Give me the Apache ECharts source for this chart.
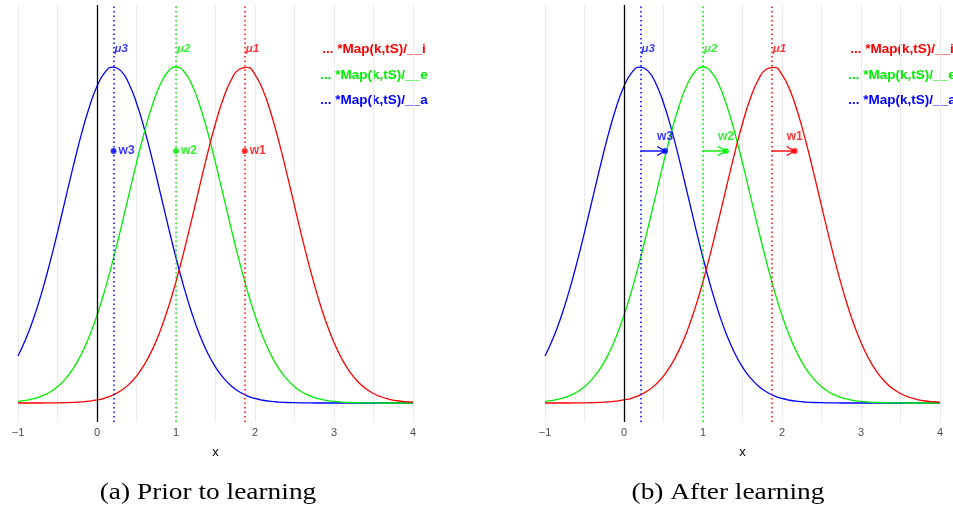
<!DOCTYPE html>
<html><head><meta charset="utf-8">
<script src="https://cdn.jsdelivr.net/npm/echarts@6/dist/echarts.min.js"></script>
<style>html,body{margin:0;padding:0;background:#fff}#c{width:953px;height:509px}</style>
</head><body><div id="c"></div>
<script>
// ---- data ----
const xs = [-1.0,-0.9,-0.8,-0.7,-0.6,-0.5,-0.4,-0.3,-0.2,-0.1,0.0,0.1,0.2,0.3,0.4,0.5,0.6,0.7,0.8,0.9,
  1.0,1.1,1.2,1.3,1.4,1.5,1.6,1.7,1.8,1.9,2.0,2.1,2.2,2.3,2.4,2.5,2.6,2.7,2.8,2.9,
  3.0,3.1,3.2,3.3,3.4,3.5,3.6,3.7,3.8,3.9,4.0];
const blueY = [0.1398,0.1910,0.2539,0.3287,0.4141,0.5080,0.6065,0.7050,0.7978,0.8789,
  0.9425,0.9839,0.9999,0.9892,0.9526,0.8931,0.8152,0.7243,0.6264,0.5274,
  0.4323,0.3449,0.2679,0.2026,0.1491,0.1069,0.0746,0.0506,0.0335,0.0215,
  0.0135,0.0082,0.0049,0.0028,0.0016,0.0009,0.0005,0.0002,0.0001,0.0001,
  0,0,0,0,0,0,0,0,0,0,0];
const greenY = [0.0046,0.0078,0.0129,0.0206,0.0321,0.0486,0.0718,0.1032,0.1444,0.1967,
  0.2609,0.3368,0.4232,0.5177,0.6165,0.7147,0.8066,0.8861,0.9477,0.9867,
  1.0,0.9867,0.9477,0.8861,0.8066,0.7147,0.6165,0.5177,0.4232,0.3368,
  0.2609,0.1967,0.1444,0.1032,0.0718,0.0486,0.0321,0.0206,0.0129,0.0078,
  0.0046,0.0027,0.0015,0.0008,0.0004,0.0002,0.0001,0.0001,0,0,0];
const redY = [0.0000,0.0000,0.0001,0.0001,0.0003,0.0005,0.0010,0.0018,0.0032,0.0054,
  0.0091,0.0148,0.0236,0.0364,0.0548,0.0803,0.1145,0.1589,0.2147,0.2825,
  0.3616,0.4508,0.5471,0.6462,0.7432,0.8320,0.9067,0.9619,0.9934,0.9988,
  0.9775,0.9314,0.8639,0.7800,0.6856,0.5867,0.4887,0.3963,0.3128,0.2404,
  0.1798,0.1309,0.0929,0.0641,0.0430,0.0282,0.0179,0.0111,0.0067,0.0039,0.0023];
const mus = [1.87, 1.0, 0.21];            // mu1, mu2, mu3
const muLabels = ['\u03bc1', '\u03bc2', '\u03bc3'];
const wValue = 0.75;
const wEnds = [2.16, 1.29, 0.52];          // arrow ends after learning
const wLabels = ['w1', 'w2', 'w3'];
const legendLabels = ['... *Map(k,tS)/__i', '... *Map(k,tS)/__e', '... *Map(k,tS)/__a'];
const xTicks = [-1, 0, 1, 2, 3, 4];
const captions = ['(a) Prior to learning', '(b) After learning'];

// ---- styling / layout ----
const colors = ['#FF0000', '#00EE00', '#0000FF'];
const curves = [redY, greenY, blueY];
const FONT = 'Liberation Sans';
const Y_MIN = -0.0565, Y_MAX = 1.1845, MU_LABEL_Y = 1.054;
const panelLeft = [18, 545], panelW = 395;
const legendCX = [374, 902], legendYs = [49, 75, 100];
const captionCX = [208, 728];

const grid = [], xAxis = [], yAxis = [], series = [], graphic = [];
for (let p = 0; p < 2; p++) {
  grid.push({left: panelLeft[p], top: 5, width: panelW, height: 417, containLabel: false});
  xAxis.push({
    type: 'value', gridIndex: p, min: xTicks[0], max: xTicks[xTicks.length - 1], interval: 1,
    name: 'x', nameLocation: 'middle', nameGap: 24,
    nameTextStyle: {color: '#000', fontSize: 13, fontFamily: FONT},
    axisLine: {show: false}, axisTick: {show: false},
    axisLabel: {color: '#4d4d4d', fontSize: 11, fontFamily: FONT, margin: 5,
      formatter: v => v < 0 ? '\u2212' + Math.abs(v) : String(v)},
    splitLine: {show: true, lineStyle: {color: '#ebebeb', width: 1}},
    minorTick: {show: false, splitNumber: 2},
    minorSplitLine: {show: true, lineStyle: {color: '#ebebeb', width: 1}}
  });
  yAxis.push({type: 'value', gridIndex: p, min: Y_MIN, max: Y_MAX, show: false, splitLine: {show: false}});

  // curves: blue drawn first, red on top
  for (const i of [2, 1, 0]) {
    const ml = [{xAxis: mus[i]}];
    if (i === 2) ml.push({xAxis: 0, lineStyle: {type: 'solid', color: '#000', width: 1.3}});
    series.push({
      type: 'line', xAxisIndex: p, yAxisIndex: p,
      data: xs.map((x, k) => [x, curves[i][k]]),
      smooth: true, showSymbol: false, symbol: 'none',
      lineStyle: {color: colors[i], width: 1.3}, itemStyle: {color: colors[i]},
      markLine: {silent: true, symbol: ['none', 'none'], label: {show: false},
        lineStyle: {type: [1.5, 3], color: colors[i], width: 1.5}, data: ml}
    });
  }
  // mu labels
  series.push({
    type: 'scatter', xAxisIndex: p, yAxisIndex: p, symbolSize: 0, silent: true,
    data: mus.map((m, i) => ({value: [m, MU_LABEL_Y], label: {color: colors[i]}})),
    label: {show: true, position: 'right', distance: 1, formatter: q => muLabels[q.dataIndex],
      fontStyle: 'italic', fontWeight: 'bold', fontSize: 11.5, fontFamily: FONT}
  });
  if (p === 0) {
    series.push({
      type: 'scatter', xAxisIndex: p, yAxisIndex: p, symbolSize: 6, z: 5,
      data: mus.map((m, i) => ({value: [m, wValue], itemStyle: {color: colors[i]}, label: {color: colors[i]}})),
      label: {show: true, position: 'right', distance: 2, formatter: q => wLabels[q.dataIndex],
        fontWeight: 'bold', fontSize: 12, fontFamily: FONT}
    });
  } else {
    series.push({
      type: 'custom', xAxisIndex: p, yAxisIndex: p, coordinateSystem: 'cartesian2d', clip: false, z: 5,
      data: mus.map((m, i) => [m, wEnds[i], wValue]),
      renderItem: (params, api) => {
        const s = api.coord([api.value(0), api.value(2)]);
        const e = api.coord([api.value(1), api.value(2)]);
        const c = colors[params.dataIndex];
        const st = {stroke: c, lineWidth: 1.4, fill: 'none'};
        return {type: 'group', children: [
          {type: 'line', shape: {x1: s[0], y1: s[1], x2: e[0], y2: e[1]}, style: st},
          {type: 'polyline', shape: {points: [[e[0] - 8, e[1] - 4.5], [e[0], e[1]], [e[0] - 8, e[1] + 4.5]]}, style: st}
        ]};
      }
    });
    series.push({
      type: 'scatter', xAxisIndex: p, yAxisIndex: p, symbolSize: 6, z: 6,
      data: wEnds.map((w, i) => ({value: [w, wValue], itemStyle: {color: colors[i]}, label: {color: colors[i]}})),
      label: {show: true, position: 'top', distance: 5, formatter: q => wLabels[q.dataIndex],
        fontWeight: 'bold', fontSize: 12, fontFamily: FONT}
    });
  }
  // legend-like annotations
  for (let i = 0; i < 3; i++) {
    graphic.push({type: 'text', x: legendCX[p], y: legendYs[i], silent: true,
      style: {text: legendLabels[i], fill: colors[i], fontSize: 13.5, fontWeight: 'bold', fontFamily: FONT,
        align: 'center', verticalAlign: 'middle'}});
  }
  graphic.push({type: 'text', x: captionCX[p], y: 493, scaleX: 1.14, silent: true,
    style: {text: captions[p], fill: '#000', fontSize: 24, fontFamily: 'Liberation Serif',
      align: 'center', verticalAlign: 'middle'}});
}

const chart = echarts.init(document.getElementById('c'), null, {renderer: 'canvas'});
chart.setOption({animation: false, backgroundColor: '#fff', grid, xAxis, yAxis, series, graphic});
</script>
</body></html>
